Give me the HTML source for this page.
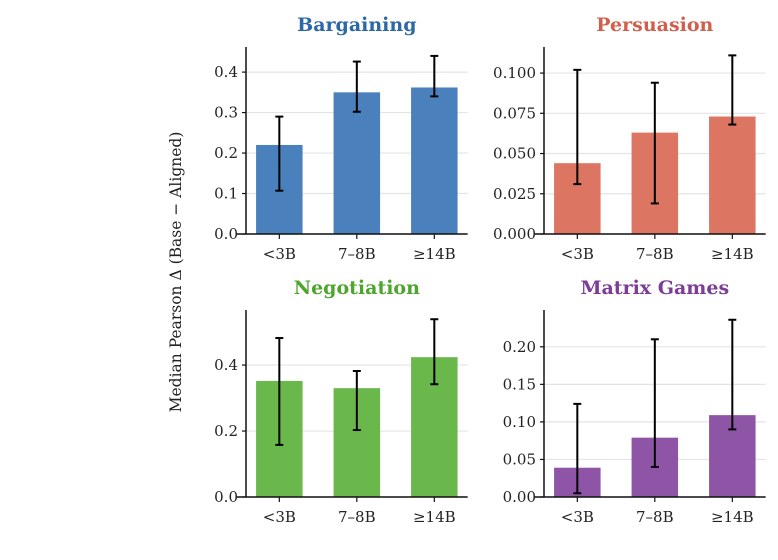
<!DOCTYPE html>
<html><head><meta charset="utf-8"><style>
body{margin:0;background:#fff}
svg text{font-family:"DejaVu Serif","Liberation Serif",serif;fill:#222}
</style></head><body>
<svg id="chart" width="778" height="555" xmlns="http://www.w3.org/2000/svg">
<text transform="translate(181,272) rotate(-90)" text-anchor="middle" font-size="15.5">Median Pearson Δ (Base − Aligned)</text>
</svg>
<script>
const categories = ["<3B","7–8B","≥14B"];
const bargainingValues = [0.22,0.35,0.362];
const bargainingLow = [0.107,0.302,0.34];
const bargainingHigh = [0.29,0.426,0.44];
const persuasionValues = [0.044,0.063,0.073];
const persuasionLow = [0.031,0.019,0.068];
const persuasionHigh = [0.102,0.094,0.111];
const negotiationValues = [0.352,0.33,0.424];
const negotiationLow = [0.158,0.203,0.342];
const negotiationHigh = [0.482,0.382,0.539];
const matrixValues = [0.039,0.079,0.109];
const matrixLow = [0.005,0.04,0.09];
const matrixHigh = [0.124,0.21,0.236];
const bargainingTicks = ["0.0","0.1","0.2","0.3","0.4"];
const persuasionTicks = ["0.000","0.025","0.050","0.075","0.100"];
const negotiationTicks = ["0.0","0.2","0.4"];
const matrixTicks = ["0.00","0.05","0.10","0.15","0.20"];

const svg = document.getElementById('chart');
const NS = 'http://www.w3.org/2000/svg';
function mk(tag, attrs, parent){const e=document.createElementNS(NS,tag);for(const k in attrs)e.setAttribute(k,attrs[k]);(parent||svg).appendChild(e);return e;}

const panels = [
 {key:'bargaining',title:'Bargaining',tc:'#2c68a6',fill:'#4a80bb',vals:bargainingValues,lo:bargainingLow,hi:bargainingHigh,ticks:bargainingTicks,x0:246,yb:234,yt:47,ymax:0.462},
 {key:'persuasion',title:'Persuasion',tc:'#d0604d',fill:'#dc7662',vals:persuasionValues,lo:persuasionLow,hi:persuasionHigh,ticks:persuasionTicks,x0:544,yb:234,yt:47,ymax:0.1162},
 {key:'negotiation',title:'Negotiation',tc:'#4ea52d',fill:'#6ab84b',vals:negotiationValues,lo:negotiationLow,hi:negotiationHigh,ticks:negotiationTicks,x0:246,yb:497,yt:310,ymax:0.567},
 {key:'matrix-games',title:'Matrix Games',tc:'#7c3c97',fill:'#8e55a7',vals:matrixValues,lo:matrixLow,hi:matrixHigh,ticks:matrixTicks,x0:544,yb:497,yt:310,ymax:0.249}
];
panels.forEach(p=>{
 const g = mk('g',{});
 
 
 const step=77.5, x0=p.x0;
 const xs = i => x0 + (i+0.43)*step;
 const ys = v => p.yb - (v/p.ymax)*(p.yb-p.yt);
 const right = x0 + 2.86*step;
 p.ticks.forEach(t=>{
  const v=parseFloat(t), y=ys(v);
  const gl=mk('line',{x1:x0,x2:right,y1:y,y2:y,stroke:'#e4e4e4','stroke-width':1.2},g);
  
  
  mk('line',{x1:x0-4,x2:x0,y1:y,y2:y,stroke:'#111','stroke-width':1.2},g);
  const tx=mk('text',{x:x0-8,y:y+5,'text-anchor':'end','font-size':15},g);
  tx.textContent=t;
  
  
 });
 p.vals.forEach((v,i)=>{
  const cx=xs(i), w=0.6*step;
  const r=mk('rect',{x:cx-w/2,y:ys(v),width:w,height:p.yb-ys(v),fill:p.fill},g);
  
  
  const e=mk('g',{stroke:'#000','stroke-width':2},g);
  
  
  mk('line',{x1:cx,x2:cx,y1:ys(p.lo[i]),y2:ys(p.hi[i])},e);
  mk('line',{x1:cx-4,x2:cx+4,y1:ys(p.lo[i]),y2:ys(p.lo[i])},e);
  mk('line',{x1:cx-4,x2:cx+4,y1:ys(p.hi[i]),y2:ys(p.hi[i])},e);
  mk('line',{x1:cx,x2:cx,y1:p.yb,y2:p.yb+5,stroke:'#111','stroke-width':1.2},g);
  const tx=mk('text',{x:cx,y:p.yb+25,'text-anchor':'middle','font-size':15},g);
  tx.textContent=categories[i];
  
  
 });
 mk('line',{x1:x0,x2:x0,y1:p.yt,y2:p.yb,stroke:'#111','stroke-width':1.5},g);
 mk('line',{x1:x0-9,x2:right,y1:p.yb,y2:p.yb,stroke:'#111','stroke-width':1.5},g);
 const tt=mk('text',{x:(x0+right)/2,y:p.yt-16,'text-anchor':'middle','font-size':19,'font-weight':'bold',fill:p.tc,style:'fill:'+p.tc},g);
 tt.textContent=p.title;
 
 
});
</script>
</body></html>
